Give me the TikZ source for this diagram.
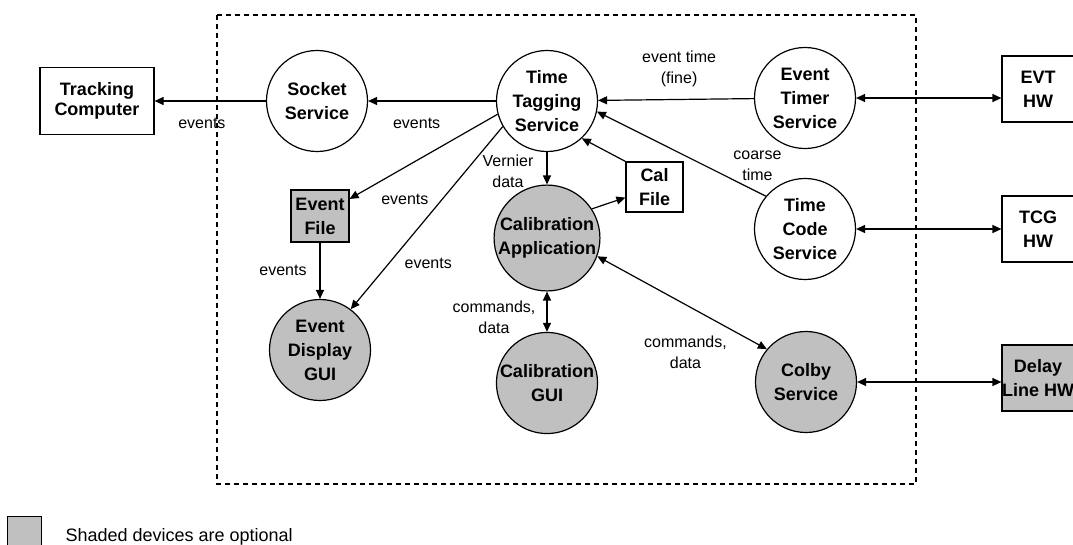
\documentclass[tikz,border=0pt]{standalone}
\usepackage{fontspec}
\setmainfont{Liberation Sans}
\usetikzlibrary{shapes,arrows.meta,positioning,calc}
\definecolor{shade}{RGB}{192,192,192}

\begin{document}
\begin{tikzpicture}[x=1pt, y=1pt, >={Triangle[length=9pt,width=8pt]}, line width=1.2pt,
    svc/.style={draw, circle, minimum size=101pt, inner sep=0pt, align=center, font=\fontsize{18}{24}\selectfont\bfseries},
    box/.style={draw, rectangle, inner sep=0pt, align=center, font=\fontsize{18}{24}\selectfont\bfseries},
    opt/.style={fill=shade},
    lbl/.style={font=\fontsize{16}{21}\selectfont, align=center, inner sep=0pt}]
    \useasboundingbox (0,0) rectangle (1073,-544);

    % Boundary of the system
    \draw[dash pattern=on 5pt off 4pt] (217,-15) rectangle (916,-484);

    % Services
    \node[svc] (TTS) at (547,-101) {Time\\Tagging\\Service};
    \node[svc] (Sock) at (317,-101) {Socket\\Service};
    \node[svc] (ETS) at (805,-98) {Event\\Timer\\Service};
    \node[svc] (TCS) at (805,-229) {Time\\Code\\Service};
    \node[svc, opt, below of=TTS, node distance=137pt] (CalApp) {Calibration\\Application};
    \node[svc, opt, below of=CalApp, node distance=145pt] (CalGUI) {Calibration\\GUI};
    \node[svc, opt] (EDG) at (320,-350) {Event\\Display\\GUI};
    \node[svc, opt] (Colby) at (806,-382) {Colby\\Service};

    % Files and hardware
    \node[box, minimum width=114pt, minimum height=67pt, font=\fontsize{18}{20}\selectfont\bfseries] (Track) at (97,-101) {Tracking\\Computer};
    \node[box, opt, minimum width=58pt, minimum height=52pt] (EvFile) at (320,-216) {Event\\File};
    \node[box, minimum width=57pt, minimum height=50pt] (CalFile) at (654.5,-187) {Cal\\File};
    \node[box, minimum width=72pt, minimum height=66pt] (EVT) at (1038,-89) {EVT\\HW};
    \node[box, minimum width=72pt, minimum height=66pt] (TCG) at (1038,-229) {TCG\\HW};
    \node[box, opt, minimum width=72pt, minimum height=66pt] (Delay) at (1038,-378) {Delay\\Line HW};

    % Data flow
    \draw[->] (Sock) -- (Track) node[lbl, pos=0.575, yshift=-22pt] {events};
    \draw[->] (TTS) -- (Sock) node[lbl, pos=0.62, yshift=-22pt] {events};
    \draw[->] (ETS) -- (TTS) node[lbl, pos=0.48, yshift=31pt] {event time\\(fine)};
    \draw[->] (TCS.140) -- (TTS.-12) node[lbl, pos=0.05, yshift=26pt] {coarse\\time};
    \draw[->] (CalFile.north west) -- (TTS.-47);
    \draw[->] (CalApp.33) -- (CalFile.200);
    \draw[->] (TTS) -- (CalApp) node[lbl, midway, xshift=-39pt, yshift=-3pt] {Vernier\\data};
    \draw[->] (TTS.195) -- (EvFile.30) node[lbl, pos=0.627, yshift=-32pt] {events};
    \draw[->] (TTS.210) -- (EDG.53) node[lbl, pos=0.747, xshift=39pt] {events};
    \draw[->] (EvFile) -- (EDG) node[lbl, midway, xshift=-37pt] {events};
    \draw[<->] (CalApp) -- (CalGUI) node[lbl, midway, xshift=-53pt, yshift=-6pt] {commands,\\data};
    \draw[<->] (CalApp.-20) -- (Colby.140) node[lbl, pos=0.52, yshift=-48pt] {commands,\\data};

    % Hardware links
    \draw[<->] (ETS) -- (ETS -| EVT.west);
    \draw[<->] (TCS) -- (TCS -| TCG.west);
    \draw[<->] (Colby) -- (Colby -| Delay.west);

    % Legend
    \node[draw, opt, minimum size=34pt, inner sep=0pt, line width=1pt] (LegBox) at (24,-533) {};
    \node[lbl, anchor=base west, font=\fontsize{18}{22}\selectfont] (LegText) at (65,-541) {Shaded devices are optional};
\end{tikzpicture}
\end{document}
